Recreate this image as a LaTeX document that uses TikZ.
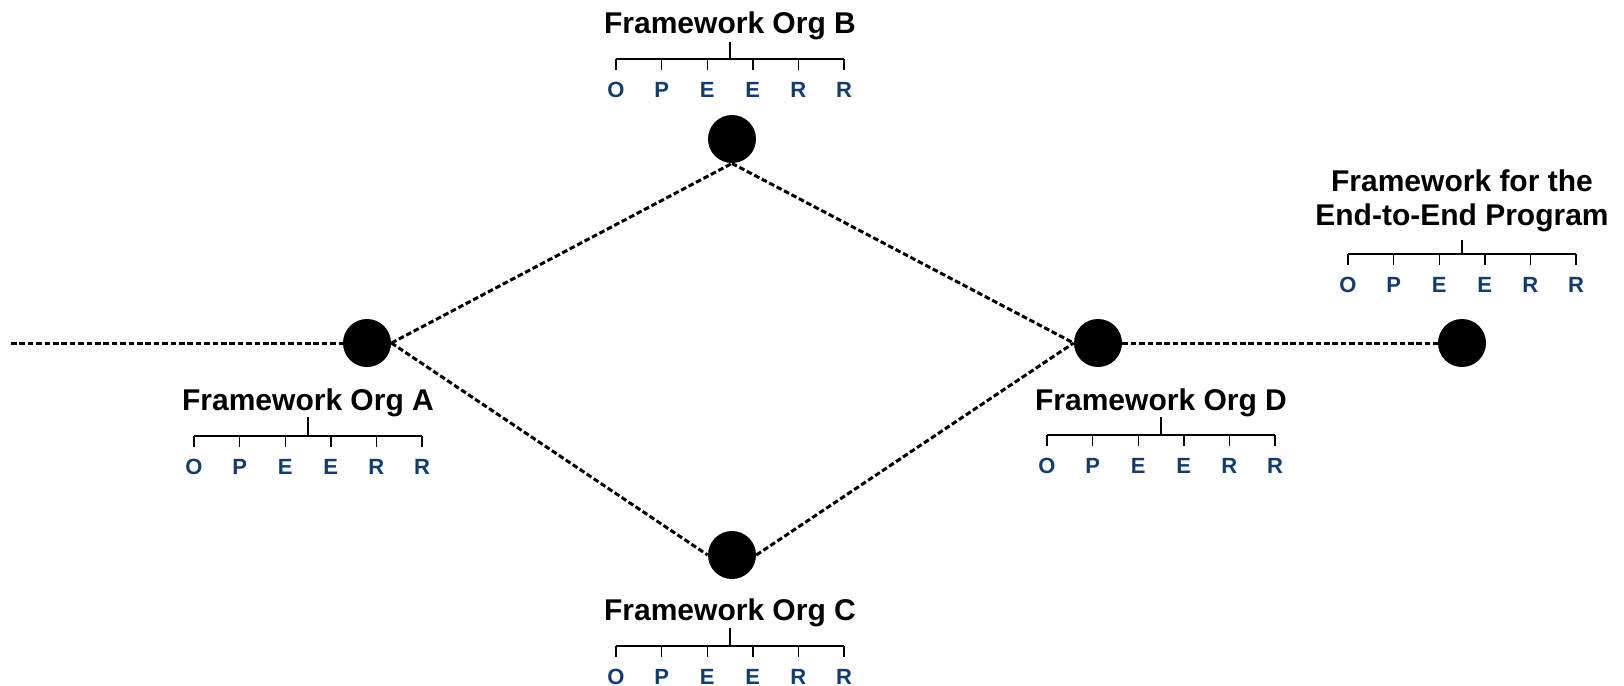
\documentclass[tikz,border=0pt]{standalone}
\usepackage{fontspec}
\setmainfont{Liberation Sans}
\usetikzlibrary{calc}
\definecolor{letterblue}{RGB}{16,60,112}
\tikzset{
  hub/.style={circle, fill=black, minimum size=24pt, inner sep=0pt},
  link/.style={line width=1.5pt, dash pattern=on 2.8pt off 1.4pt},
  title/.style={font=\fontsize{15}{17}\selectfont\bfseries, inner sep=0pt, anchor=base, align=center},
  stage/.style={font=\fontsize{11}{13}\selectfont\bfseries, text=letterblue, inner sep=0pt, anchor=base},
  stem/.style={line width=1pt},
  bar/.style={line width=0.7pt},
}
% #1 name, #2 centre x, #3 stem top y, #4 bar y
\newcommand\oppertree[4]{%
  \coordinate (#1-top) at (#2,#3);
  \coordinate (#1-mid) at (#2,#4);
  \draw[stem] (#1-top) -- (#1-mid);
  \coordinate (#1-left) at (#2-114,#4);
  \coordinate (#1-right) at (#2+114,#4);
  \draw[bar] (#1-left) -- (#1-right);
  \foreach \L [count=\i from 0] in {O,P,E,E,R,R} {
    \coordinate (#1-t\i) at ($(#1-left)+(\i*45.6,0)$);
    \coordinate (#1-b\i) at ($(#1-t\i)+(0,11)$);
    \draw[bar] (#1-t\i) -- (#1-b\i);
    \node[stage] (#1-s\i) at ($(#1-t\i)+(0,38)$) {\L};
  }
}
\begin{document}
\begin{tikzpicture}[x=0.5pt, y=-0.5pt]
  \useasboundingbox (0,0) rectangle (1624,686);

  % hubs
  \node[hub] (A) at (367,343) {};
  \node[hub] (B) at (732,139) {};
  \node[hub] (C) at (732,555) {};
  \node[hub] (D) at (1098,343) {};
  \node[hub] (E) at (1462,343) {};
  \coordinate (start) at (11,343);

  % dotted links
  \draw[link] (start) -- (A.west);
  \draw[link] (A.east) -- (B.south);
  \draw[link] (A.east) -- (C.west);
  \draw[link] (B.south) -- (D.west);
  \draw[link] (C.east) -- (D.west);
  \draw[link] (D.east) -- (E.west);

  % titles
  \node[title] (tA) at (308,410) {Framework Org A};
  \node[title] (tB) at (730,33) {Framework Org B};
  \node[title] (tC) at (730,620) {Framework Org C};
  \node[title] (tD) at (1161,410) {Framework Org D};
  \node[title] (tE) at (1462,225) {Framework for the\\End-to-End Program};

  % stage trees
  \oppertree{A}{308}{417}{436}
  \oppertree{B}{730}{42}{59}
  \oppertree{C}{730}{628}{646}
  \oppertree{D}{1161}{417}{435}
  \oppertree{E}{1462}{240}{254}
\end{tikzpicture}
\end{document}
